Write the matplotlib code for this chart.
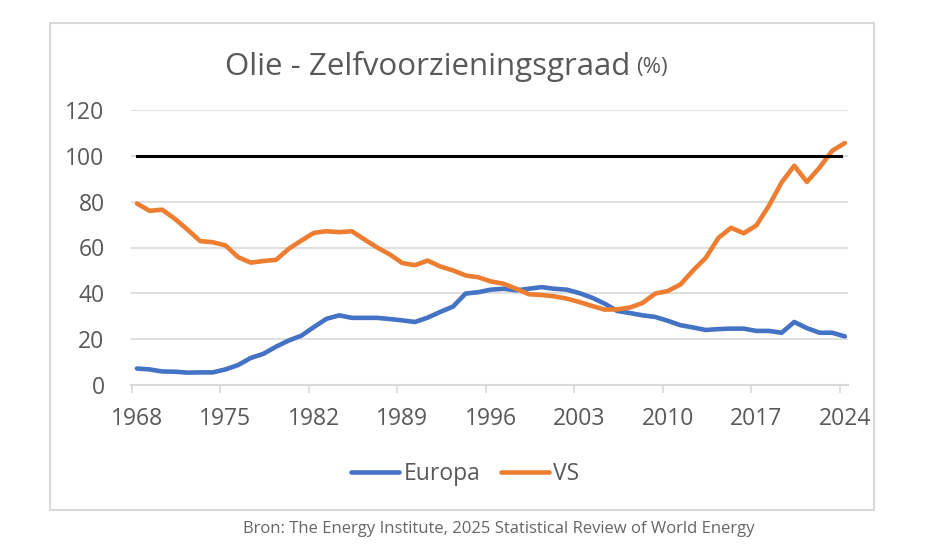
import matplotlib.pyplot as plt
from matplotlib.patches import Rectangle

years = list(range(1968, 2025))
europa = [7.2, 6.8, 5.9, 5.8, 5.4, 5.5, 5.5, 6.8, 8.7, 11.8,
          13.6, 16.7, 19.4, 21.5, 25.3, 28.9, 30.4, 29.3, 29.3, 29.3,
          28.8, 28.2, 27.5, 29.4, 31.9, 34.2, 39.9, 40.5, 41.6, 42.0,
          41.3, 42.0, 42.7, 42.0, 41.6, 40.1, 38.1, 35.5, 32.3, 31.4,
          30.4, 29.7, 28.0, 26.1, 25.1, 24.0, 24.4, 24.6, 24.6, 23.6,
          23.6, 22.8, 27.5, 24.8, 22.8, 22.8, 21.2]
vs = [79.2, 76.0, 76.5, 72.5, 67.8, 62.8, 62.3, 60.9, 55.8, 53.4,
      54.1, 54.6, 59.4, 63.0, 66.4, 67.1, 66.7, 67.1, 63.5, 60.0,
      57.0, 53.2, 52.3, 54.3, 51.7, 50.0, 47.8, 47.0, 45.2, 44.2,
      42.0, 39.6, 39.3, 38.7, 37.7, 36.2, 34.5, 32.9, 33.0, 33.8,
      35.8, 39.9, 41.0, 43.9, 50.0, 55.5, 64.2, 68.6, 66.2, 69.6,
      78.3, 88.4, 95.7, 88.6, 94.9, 102.2, 105.6]
label_years = list(range(1968, 2025, 7))
y_ticks = [0, 20, 40, 60, 80, 100, 120]

plt.rcParams['font.family'] = ['Open Sans', 'DejaVu Sans']
grey = '#595959'
grid = '#d9d9d9'

fig = plt.figure(figsize=(9.3, 5.57), dpi=100)
fig.patches.append(Rectangle((50 / 930, 1 - 510 / 557), 824 / 930, 487 / 557,
                             transform=fig.transFigure, fill=False,
                             edgecolor=grid, linewidth=1.5))

ax = fig.add_axes([131 / 930, 1 - 385 / 557, 717 / 930, 275 / 557])
ax.plot(years, europa, color='#4472C4', lw=3.3, label='Europa', solid_capstyle='round')
ax.plot(years, vs, color='#ED7D31', lw=3.3, label='VS', solid_capstyle='round')
ax.axhline(100, color='black', lw=2.2, xmin=0.008, xmax=0.99)

ax.set_xlim(1967.53, 2024.25)
ax.set_ylim(0, 120)
ax.set_yticks(y_ticks)
ax.yaxis.grid(True, color=grid, lw=1.2)
ax.set_axisbelow(True)
for s in ['top', 'right', 'left']:
    ax.spines[s].set_visible(False)
ax.spines['bottom'].set_color(grid)
ax.spines['bottom'].set_linewidth(1.5)

ax.set_xticks([y - 0.4 for y in label_years])
ax.set_xticklabels([])
ax.set_xticks(label_years, minor=True)
ax.set_xticklabels([str(y) for y in label_years], minor=True)
ax.tick_params(axis='x', which='major', length=6, width=1.2, color=grid)
ax.tick_params(axis='x', which='minor', length=0, pad=16, labelsize=16.5, labelcolor=grey)
ax.tick_params(axis='y', length=0, pad=19, labelsize=16.5, labelcolor=grey)

title = fig.text(225 / 930, 1 - 66 / 557, 'Olie - Zelfvoorzieningsgraad', fontsize=22.5,
                 color=grey, ha='left', va='center')
fig.canvas.draw()
bb = title.get_window_extent()
fig.text((bb.x1 + 6) / 930, 1 - 67 / 557, '(%)', fontsize=16, color=grey,
         ha='left', va='center')

fig.legend(loc='center', bbox_to_anchor=(465 / 930, 1 - 474 / 557), ncol=2,
           frameon=False, fontsize=16.5, labelcolor=grey, handlelength=2.1,
           handletextpad=0.2, columnspacing=0.9)

fig.text(499 / 930, 1 - 529 / 557,
         'Bron: The Energy Institute, 2025 Statistical Review of World Energy',
         fontsize=12, color='#666666', ha='center', va='center')

fig.savefig('out.png', dpi=100)
